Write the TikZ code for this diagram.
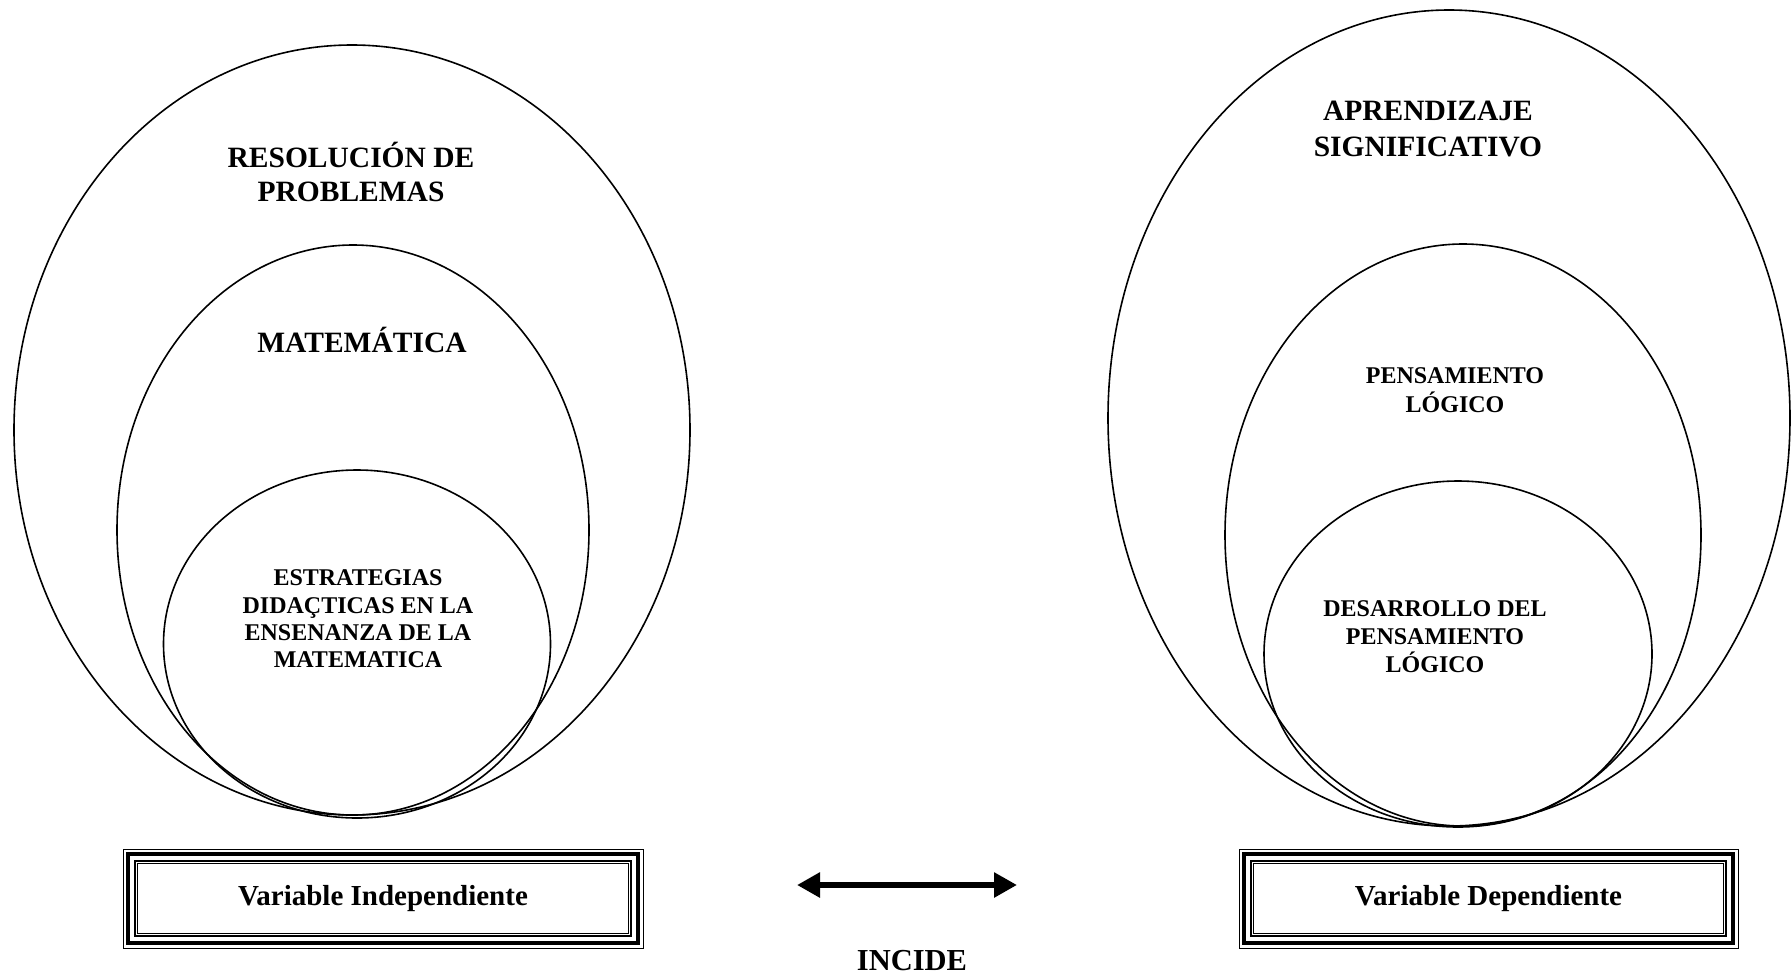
\documentclass[tikz,border=0pt]{standalone}
\usepackage{fontspec}
\setmainfont{Liberation Serif}
\usetikzlibrary{shapes.geometric,arrows.meta}
\tikzset{
  ring/.style = {ellipse, draw=black, line width=1.6pt, inner sep=0pt, outer sep=0pt},
  biglbl/.style = {align=center, inner sep=0pt, font=\bfseries\fontsize{29.5}{34}\selectfont},
  lbl/.style = {align=center, inner sep=0pt, font=\bfseries\fontsize{24}{28}\selectfont},
  varbox/.style = {rectangle, draw=black, line width=1pt, minimum height=99pt, inner sep=0pt, outer sep=0pt, font=\bfseries\fontsize{29}{34}\selectfont}
}

\begin{document}
\begin{tikzpicture}[x=1pt, y=-1pt, >={Triangle[length=23pt,width=24pt]}]
\useasboundingbox (0,0) rectangle (1791,975);

% left side
\node [ring, minimum width=676pt, minimum height=770pt] (ellRes) at (352,430) {};
\node [ring, minimum width=472pt, minimum height=570pt] (ellMat) at (353,530) {};
\node [ring, minimum width=387pt, minimum height=348pt] (ellEst) at (357,644) {};

\node [biglbl] (resol) at (351,172) {RESOLUCIÓN DE\\PROBLEMAS};
\node [biglbl, anchor=base] (matem) at (362,352) {MATEMÁTICA};
\node [lbl, font=\bfseries\fontsize{24}{27.3}\selectfont] (estrat) at (358,619) {ESTRATEGIAS\\DIDAÇTICAS EN LA\\ENSENANZA DE LA\\MATEMATICA};

% right side
\node [ring, minimum width=682pt, minimum height=816pt] (ellApr) at (1449,418) {};
\node [ring, minimum width=476pt, minimum height=582pt] (ellPen) at (1463,535) {};
\node [ring, minimum width=388pt, minimum height=346pt] (ellDes) at (1458,654) {};

\node [biglbl, font=\bfseries\fontsize{29.5}{36}\selectfont] (aprend) at (1428,129) {APRENDIZAJE\\SIGNIFICATIVO};
\node [lbl, font=\bfseries\fontsize{24}{29}\selectfont] (pensam) at (1455,390) {PENSAMIENTO\\LÓGICO};
\node [lbl] (desarr) at (1435,637) {DESARROLLO DEL\\PENSAMIENTO\\LÓGICO};

% variable boxes
\node [varbox, minimum width=520pt] (vi) at (383,898.5) {Variable Independiente};
\node [varbox, minimum width=499pt] (vd) at (1488.5,898.5) {Variable Dependiente};
\foreach \n in {vi,vd} {
  \draw [line width=4.5pt] ([shift={(4.8,4.8)}]\n.north west) rectangle ([shift={(-4.8,-4.8)}]\n.south east);
  \draw [line width=1.4pt] ([shift={(12,12)}]\n.north west) rectangle ([shift={(-12,-12)}]\n.south east);
  \draw [line width=0.7pt] ([shift={(14.5,14.5)}]\n.north west) rectangle ([shift={(-14.5,-14.5)}]\n.south east);
}

% relation
\coordinate (incL) at (797,885);
\coordinate (incR) at (1017,885);
\draw [<->, line width=6.5pt] (incL) -- (incR);
\node [biglbl, font=\bfseries\fontsize{30.5}{34}\selectfont, anchor=base] (incide) at (912,970) {INCIDE};
\end{tikzpicture}
\end{document}
